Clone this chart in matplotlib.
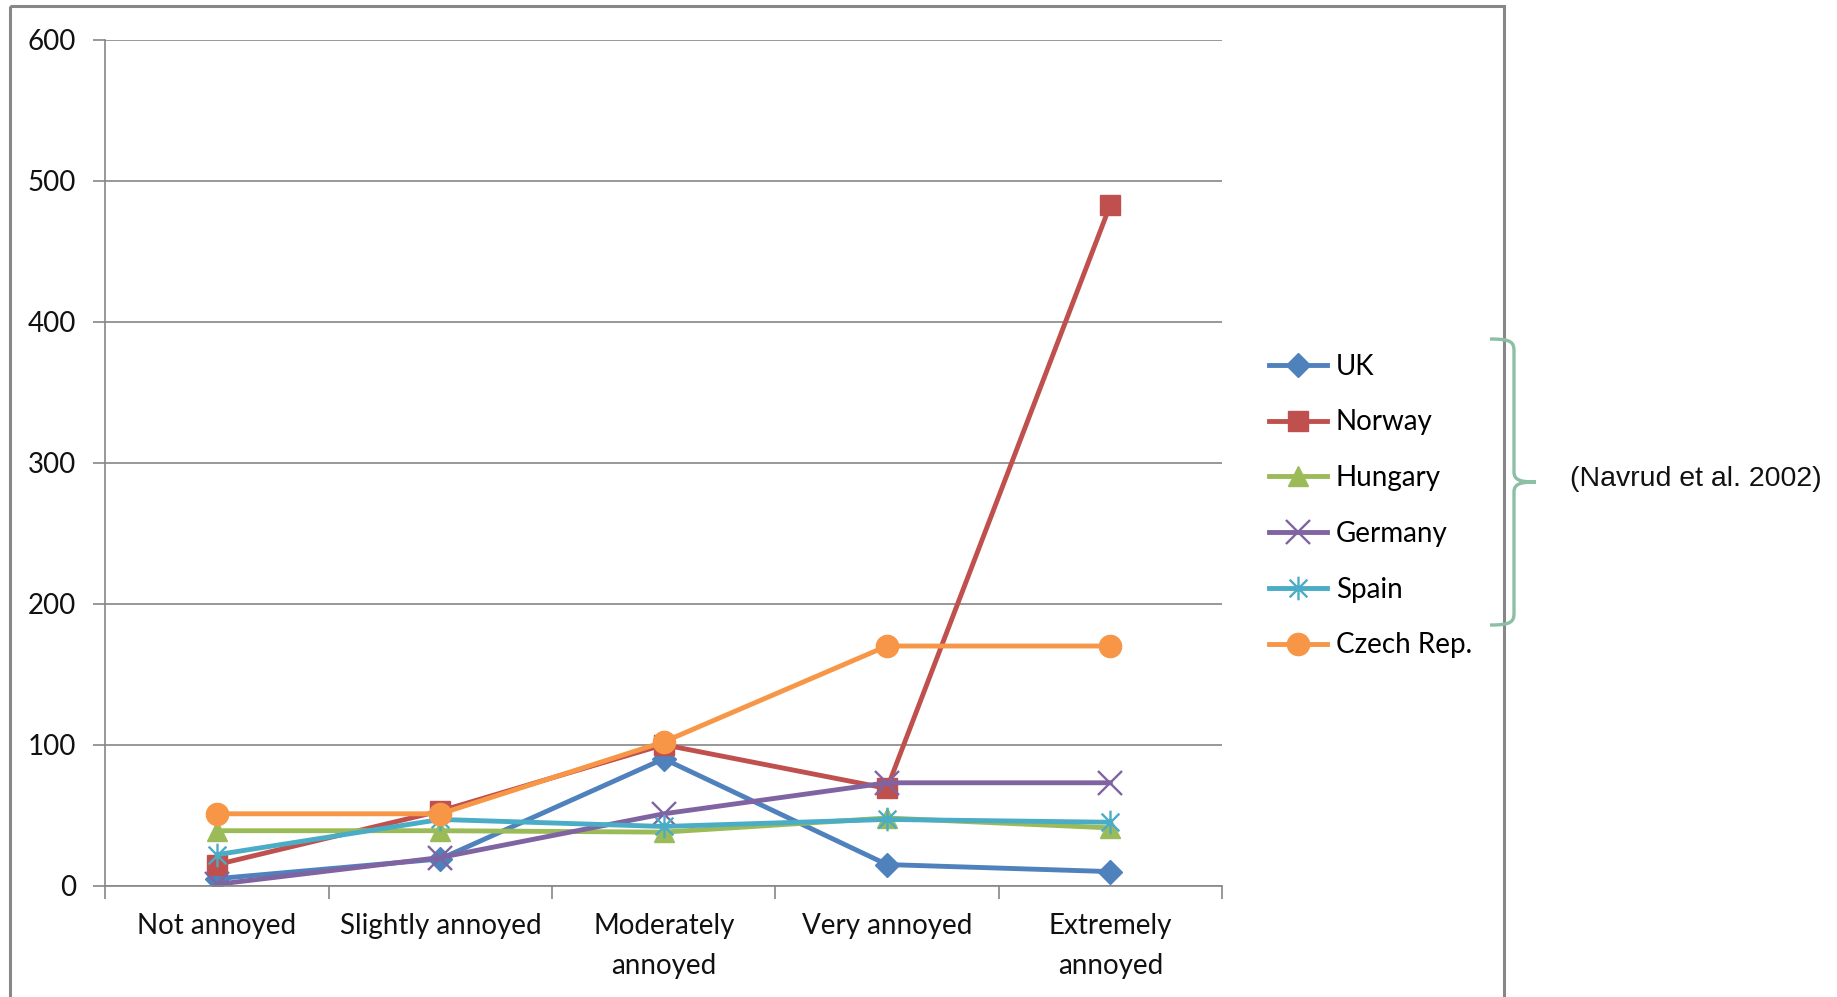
import numpy as np
import matplotlib
matplotlib.use("Agg")
import matplotlib.pyplot as plt
from matplotlib.path import Path
from matplotlib.patches import PathPatch, Rectangle

plt.rcParams["font.family"] = ["Lato", "DejaVu Sans"]

# Annoyance levels and the valuation for each country
categories = ["Not annoyed", "Slightly annoyed", "Moderately\nannoyed",
              "Very annoyed", "Extremely\nannoyed"]
uk = [5, 19, 90, 15, 10]
norway = [15, 53, 100, 69, 483]
hungary = [39, 39, 38, 48, 41]
germany = [1, 20, 51, 73, 73]
spain = [22, 47, 42, 47, 45]
czech = [51, 51, 102, 170, 170]
yticks = [0, 100, 200, 300, 400, 500, 600]

# asterisk marker: vertical stroke plus an x
star = Path([(0, -1), (0, 1), (-0.75, -0.75), (0.75, 0.75), (-0.75, 0.75), (0.75, -0.75)],
            [Path.MOVETO, Path.LINETO, Path.MOVETO, Path.LINETO, Path.MOVETO, Path.LINETO])

series = [
    ("UK", uk, "#4F81BD", "D", 12.5),
    ("Norway", norway, "#C0504D", "s", 15),
    ("Hungary", hungary, "#9BBB59", "^", 15),
    ("Germany", germany, "#8064A2", "x", 17),
    ("Spain", spain, "#4BACC6", star, 17),
    ("Czech Rep.", czech, "#F79646", "o", 16),
]

W, H = 1837, 997
FS = 20
fig = plt.figure(figsize=(W / 100, H / 100), dpi=100)
ax = fig.add_axes([105.4 / W, 1 - 885.7 / H, (1222 - 105.4) / W, (885.7 - 39.8) / H])

x = np.arange(len(categories))
for name, vals, col, mk, ms in series:
    thin = mk == "x" or mk is star
    ax.plot(x, vals, color=col, lw=3.5, marker=mk, ms=ms, label=name,
            mfc=col, mec=col, mew=1.7 if thin else 1, solid_joinstyle="round")

ax.set_xlim(-0.5, len(categories) - 0.5)
ax.set_ylim(0, 600)
ax.set_yticks(yticks)
ax.set_xticks(x)
ax.set_xticklabels(categories, fontsize=FS, color="#111111", linespacing=1.65)
ax.set_xticks(np.arange(-0.5, len(categories)), minor=True)
ax.tick_params(axis="x", which="major", length=0, pad=20)
ax.tick_params(axis="x", which="minor", length=9, width=1.2, color="#868686")
ax.tick_params(axis="y", length=9, width=1.2, color="#868686", labelsize=FS,
               labelcolor="#111111", pad=12)
ax.grid(axis="y", color="#868686", lw=1.2)
ax.set_axisbelow(True)
for s in ("top", "right"):
    ax.spines[s].set_visible(False)
for s in ("left", "bottom"):
    ax.spines[s].set_color("#868686")
    ax.spines[s].set_linewidth(1.2)

leg = fig.legend(loc="center left", bbox_to_anchor=(1269 / W, 1 - 506 / H),
                 frameon=False, fontsize=FS, handlelength=2.1, handletextpad=0.3,
                 labelspacing=1.07, borderpad=0, borderaxespad=0)

# overlay in pixel coordinates for the outer frame
ov = fig.add_axes([0, 0, 1, 1], zorder=-1)
ov.set_xlim(0, W)
ov.set_ylim(H, 0)
ov.axis("off")
ov.add_patch(Rectangle((9.5, 6.5), 1504 - 9.5, H + 20, fill=False,
                       ec="#878787", lw=2.2))

# curly bracket grouping the legend entries, plus the source note
bx, top, mid, bot, tip = 1514, 339, 482, 625, 1536
verts = [(1490, top), (bx - 3, top), (bx, top + 3), (bx, top + 12),
         (bx, mid - 10), (bx, mid - 2), (bx + 6, mid), (tip, mid),
         (tip, mid), (bx + 6, mid), (bx, mid + 2), (bx, mid + 10),
         (bx, bot - 12), (bx, bot - 3), (bx - 3, bot), (1490, bot)]
codes = [Path.MOVETO, Path.CURVE4, Path.CURVE4, Path.CURVE4,
         Path.LINETO, Path.CURVE4, Path.CURVE4, Path.CURVE4,
         Path.MOVETO, Path.CURVE4, Path.CURVE4, Path.CURVE4,
         Path.LINETO, Path.CURVE4, Path.CURVE4, Path.CURVE4]
ov2 = fig.add_axes([0, 0, 1, 1], zorder=5)
ov2.set_xlim(0, W)
ov2.set_ylim(H, 0)
ov2.axis("off")
ov2.patch.set_alpha(0)
ov2.add_patch(PathPatch(Path(verts, codes), fill=False, ec="#8DBFA5", lw=2.4,
                        capstyle="butt"))
ov2.text(1570, 479, "(Navrud et al. 2002)", fontsize=20.5, va="center", ha="left",
         family=["Liberation Sans", "DejaVu Sans"], color="#111111")

fig.savefig("out.png", dpi=100)
